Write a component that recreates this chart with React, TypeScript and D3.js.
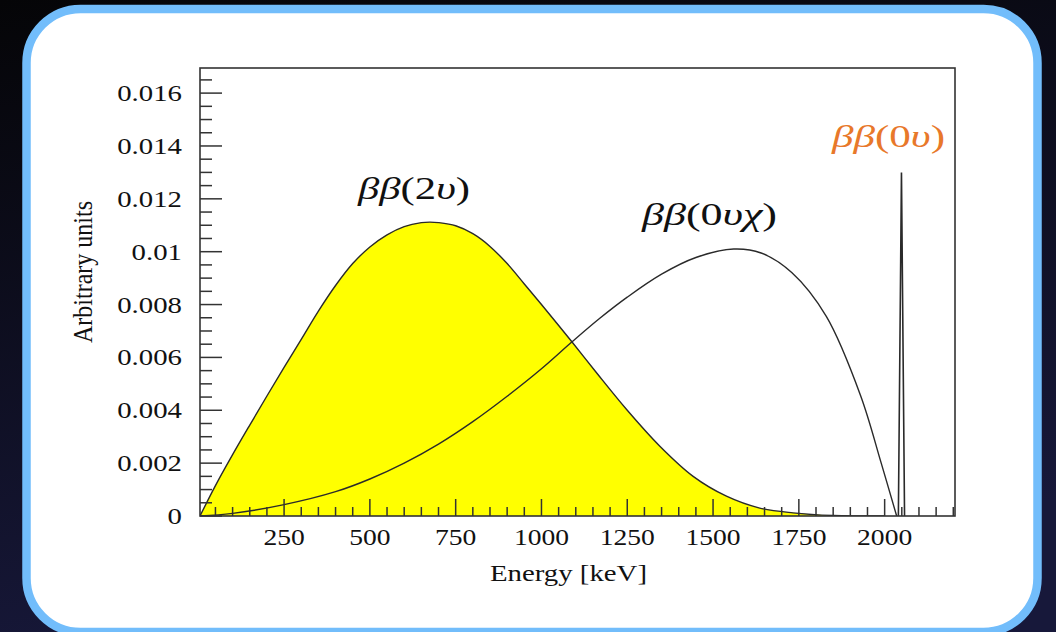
import React from "react";
import * as d3 from "d3";

// ββ(2ν) spectrum, yellow filled
const energy2nu = [5, 50, 100, 150, 200, 250, 300, 350, 400, 450, 500, 550, 600, 650, 675, 700, 750, 800, 850, 900, 950, 1000, 1088, 1161, 1250, 1345, 1442, 1539, 1636, 1733, 1850, 2000];
const value2nu = [0, 0.00115, 0.00232, 0.00344, 0.00454, 0.00562, 0.00668, 0.00775, 0.00872, 0.00955, 0.01018, 0.01064, 0.01095, 0.0111, 0.01112, 0.0111, 0.01098, 0.01068, 0.0102, 0.00955, 0.00878, 0.008, 0.0066, 0.00541, 0.004, 0.00264, 0.0015, 0.00075, 0.0003, 0.00012, 0.00002, 0];

// ββ(0νχ) spectrum
const energy0nuChi = [5, 100, 250, 400, 500, 600, 700, 800, 900, 1000, 1090, 1170, 1250, 1350, 1450, 1560, 1640, 1730, 1830, 1930, 1990, 2035];
const value0nuChi = [0, 0.0001, 0.00043, 0.00092, 0.0014, 0.002, 0.00272, 0.00357, 0.00453, 0.00557, 0.0066, 0.00748, 0.00828, 0.00915, 0.00978, 0.0101, 0.00995, 0.0092, 0.00755, 0.00455, 0.002, 0];

// ββ(0ν) peak
const energy0nu = [2040, 2049, 2058];
const value0nu = [0, 0.013, 0];

const xTickLabels = [250, 500, 750, 1000, 1250, 1500, 1750, 2000];
const yTickValues = [0, 0.002, 0.004, 0.006, 0.008, 0.01, 0.012, 0.014, 0.016];
const yTickLabels = ["0", "0.002", "0.004", "0.006", "0.008", "0.01", "0.012", "0.014", "0.016"];

const W = 1056;
const H = 632;
const plot = { left: 200, right: 955, top: 68, bottom: 516 };

const serif = "'Liberation Serif', 'Times New Roman', serif";

export default function App() {
  const x = d3.scaleLinear().domain([5, 2205]).range([plot.left, plot.right]);
  const y = d3.scaleLinear().domain([0, 0.01695]).range([plot.bottom, plot.top]);

  const pts2nu = energy2nu.map((e, i) => [e, value2nu[i]] as [number, number]);
  const ptsChi = energy0nuChi.map((e, i) => [e, value0nuChi[i]] as [number, number]);
  const pts0nu = energy0nu.map((e, i) => [e, value0nu[i]] as [number, number]);

  const smooth = d3.curveCatmullRom.alpha(0.5);
  const line = d3
    .line<[number, number]>()
    .x((d) => x(d[0]))
    .y((d) => y(d[1]))
    .curve(smooth);
  const area = d3
    .area<[number, number]>()
    .x((d) => x(d[0]))
    .y0(y(0))
    .y1((d) => y(d[1]))
    .curve(smooth);
  const spike = d3
    .line<[number, number]>()
    .x((d) => x(d[0]))
    .y((d) => y(d[1]));

  const xMinor = d3.range(50, 2201, 50).filter((v) => v % 250 !== 0);
  const yMinor = d3.range(0.0005, 0.0166, 0.0005).filter((_, i) => (i + 1) % 4 !== 0);

  const greek = (parts: [string, boolean][]) =>
    parts.map(([t, it], i) => (
      <tspan key={i} fontStyle={it ? "italic" : "normal"}>
        {t}
      </tspan>
    ));

  return (
    <div style={{ position: "absolute", left: 0, top: 0 }}>
      <svg width={W} height={H} style={{ display: "block" }}>
        <defs>
          <linearGradient id="bg" x1="0" y1="0" x2="0.3" y2="1">
            <stop offset="0" stopColor="#050507" />
            <stop offset="1" stopColor="#17183a" />
          </linearGradient>
          <clipPath id="plotClip">
            <rect x={plot.left} y={plot.top} width={plot.right - plot.left} height={plot.bottom - plot.top} />
          </clipPath>
        </defs>
        <rect width={W} height={H} fill="url(#bg)" />
        <rect x={26.5} y={9} width={1011} height={623} rx={54} fill="#fff" stroke="#72bdfb" strokeWidth={8.5} />

        <g clipPath="url(#plotClip)">
          {/* 2ν filled spectrum */}
          <path d={area(pts2nu) ?? ""} fill="#ffff00" />
          <path d={line(pts2nu) ?? ""} fill="none" stroke="#2a2a2a" strokeWidth={1.4} />
          <path d={line(ptsChi) ?? ""} fill="none" stroke="#2a2a2a" strokeWidth={1.4} />
          <path d={spike(pts0nu) ?? ""} fill="none" stroke="#2a2a2a" strokeWidth={1.6} />
        </g>

        {/* frame */}
        <rect
          x={plot.left}
          y={plot.top}
          width={plot.right - plot.left}
          height={plot.bottom - plot.top}
          fill="none"
          stroke="#333"
          strokeWidth={1.6}
        />

        {/* ticks */}
        <g stroke="#333" strokeWidth={1.5}>
          {xMinor.map((v) => (
            <line key={v} x1={x(v)} x2={x(v)} y1={plot.bottom} y2={plot.bottom - 9} />
          ))}
          {xTickLabels.map((v) => (
            <line key={v} x1={x(v)} x2={x(v)} y1={plot.bottom} y2={plot.bottom - 17} />
          ))}
          {yMinor.map((v) => (
            <line key={v} x1={plot.left} x2={plot.left + 12} y1={y(v)} y2={y(v)} />
          ))}
          {yTickValues.map((v) => (
            <line key={v} x1={plot.left} x2={plot.left + 22} y1={y(v)} y2={y(v)} />
          ))}
        </g>

        <g fontFamily={serif} fontSize={23} fill="#111">
          {xTickLabels.map((v) => (
            <text key={v} transform={`translate(${x(v)},${plot.bottom + 29}) scale(1.2,1)`} textAnchor="middle">
              {v}
            </text>
          ))}
          {yTickValues.map((v, i) => (
            <text
              key={v}
              transform={`translate(${plot.left - 18},${y(v) + 8}) scale(1.2,1)`}
              textAnchor="end"
              fontSize={24}
            >
              {yTickLabels[i]}
            </text>
          ))}
          <text transform={`translate(${(plot.left + plot.right) / 2 - 9},581) scale(1.2,1)`} textAnchor="middle" fontSize={24}>
            Energy [keV]
          </text>
          <text transform="translate(92,272) rotate(-90) scale(1,1.15)" textAnchor="middle" fontSize={24}>
            Arbitrary units
          </text>
        </g>

        {/* annotations */}
        <g fontFamily={serif} fontSize={32}>
          <text x={358} y={199} fill="#111" textLength={112} lengthAdjust="spacingAndGlyphs">
            {greek([["ββ", true], ["(2", false], ["υ", true], [")", false]])}
          </text>
          <text x={642} y={225} fill="#111" textLength={135} lengthAdjust="spacingAndGlyphs">
            {greek([["ββ", true], ["(0", false], ["υχ", true], [")", false]])}
          </text>
          <text x={832} y={147} fill="#e8782a" textLength={113} lengthAdjust="spacingAndGlyphs">
            {greek([["ββ", true], ["(0", false], ["υ", true], [")", false]])}
          </text>
        </g>
      </svg>
    </div>
  );
}
